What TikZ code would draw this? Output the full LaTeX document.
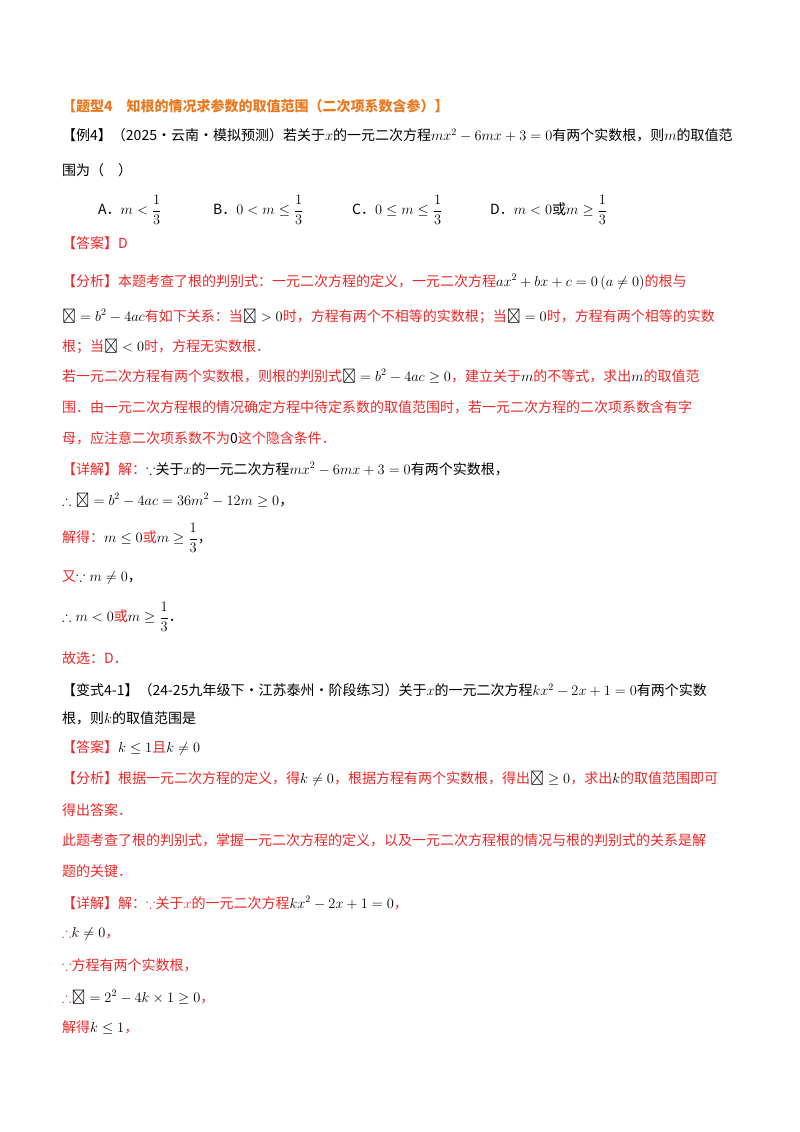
\documentclass[tikz,border=0pt]{standalone}
\usepackage{amssymb}
\usepackage{fontspec}
\setmainfont{Noto Sans CJK SC}
\definecolor{rd}{RGB}{235,40,40}
\definecolor{og}{RGB}{235,120,30}
\newcommand{\R}[1]{\textcolor{rd}{#1}}
\newcommand{\Dl}{\mathit{\Delta}}
\begin{document}
\begin{tikzpicture}[x=1pt,y=-1pt,
  ln/.style={anchor=west,inner sep=0pt,font=\fontsize{14}{16}\selectfont}]
\useasboundingbox (0,0) rectangle (800,1132);
\node[ln,text=og,font=\fontsize{14}{16}\selectfont\bfseries] (t) at (62,106) {【题型4\quad 知根的情况求参数的取值范围（二次项系数含参）】};
\node[ln] (l1) at (62,135) {【例4】（2025·云南·模拟预测）若关于$x$的一元二次方程$mx^2-6mx+3=0$有两个实数根，则$m$的取值范};
\node[ln] (l2) at (62,170) {围为（\quad ）};
\node[ln] (oa) at (98,210) {A．$m<\displaystyle\frac13$};
\node[ln] (ob) at (213,210) {B．$0<m\le\displaystyle\frac13$};
\node[ln] (oc) at (352,210) {C．$0\le m\le\displaystyle\frac13$};
\node[ln] (od) at (490,210) {D．$m<0$或$m\ge\displaystyle\frac13$};
\node[ln,text=rd] (a1) at (62,243) {【答案】D};
\node[ln,text=rd] (f1) at (62,282) {【分析】本题考查了根的判别式：一元二次方程的定义，一元二次方程\textcolor{black}{$ax^2+bx+c=0\,(a\ne0)$}的根与};
\node[ln,text=rd] (f2) at (62,316) {\textcolor{black}{$\Dl=b^2-4ac$}有如下关系：当\textcolor{black}{$\Dl>0$}时，方程有两个不相等的实数根；当\textcolor{black}{$\Dl=0$}时，方程有两个相等的实数};
\node[ln,text=rd] (f3) at (62,346) {根；当\textcolor{black}{$\Dl<0$}时，方程无实数根．};
\node[ln,text=rd] (f4) at (62,376) {若一元二次方程有两个实数根，则根的判别式\textcolor{black}{$\Dl=b^2-4ac\ge0$}，建立关于\textcolor{black}{$m$}的不等式，求出\textcolor{black}{$m$}的取值范};
\node[ln,text=rd] (f5) at (62,407) {围．由一元二次方程根的情况确定方程中待定系数的取值范围时，若一元二次方程的二次项系数含有字};
\node[ln,text=rd] (f6) at (62,438) {母，应注意二次项系数不为\textcolor{black}{0}这个隐含条件．};
\node[ln] (d1) at (62,469) {\R{【详解】解：}$\because$关于$x$的一元二次方程$mx^2-6mx+3=0$有两个实数根，};
\node[ln] (d2) at (62,500) {$\therefore\Dl=b^2-4ac=36m^2-12m\ge0$，};
\node[ln] (d3) at (62,538) {\R{解得：}$m\le0$\R{或}$m\ge\displaystyle\frac13$，};
\node[ln] (d4) at (62,577) {\R{又}$\because m\ne0$，};
\node[ln] (d5) at (62,617) {$\therefore m<0$\R{或}$m\ge\displaystyle\frac13$．};
\node[ln] (d6) at (62,658) {\R{故选：D．}};
\node[ln] (v1) at (62,690) {【变式4-1】（24-25九年级下·江苏泰州·阶段练习）关于$x$的一元二次方程$kx^2-2x+1=0$有两个实数};
\node[ln] (v2) at (62,718) {根，则$k$的取值范围是};
\node[ln] (va) at (62,748) {\R{【答案】}$k\le1$\R{且}$k\ne0$};
\node[ln,text=rd] (g1) at (62,779) {【分析】根据一元二次方程的定义，得\textcolor{black}{$k\ne0$}，根据方程有两个实数根，得出\textcolor{black}{$\Dl\ge0$}，求出\textcolor{black}{$k$}的取值范围即可};
\node[ln,text=rd] (g2) at (62,810) {得出答案．};
\node[ln,text=rd] (g3) at (62,840) {此题考查了根的判别式，掌握一元二次方程的定义，以及一元二次方程根的情况与根的判别式的关系是解};
\node[ln,text=rd] (g4) at (62,871) {题的关键．};
\node[ln,text=rd] (e1) at (62,903) {【详解】解：$\because$关于$x$的一元二次方程\textcolor{black}{$kx^2-2x+1=0$}，};
\node[ln,text=rd] (e2) at (62,934) {$\therefore$\textcolor{black}{$k\ne0$}，};
\node[ln,text=rd] (e3) at (62,965) {$\because$方程有两个实数根，};
\node[ln,text=rd] (e4) at (62,997) {$\therefore$\textcolor{black}{$\Dl=2^2-4k\times1\ge0$}，};
\node[ln,text=rd] (e5) at (62,1028) {解得\textcolor{black}{$k\le1$}，};
\end{tikzpicture}
\end{document}
